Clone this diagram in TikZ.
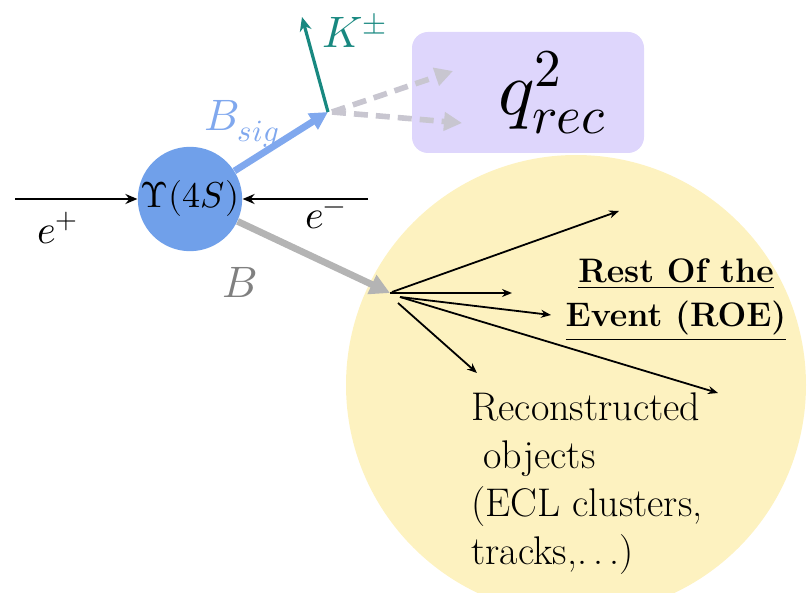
\documentclass[tikz,border=0pt]{standalone}
\usepackage{fontspec}
\usepackage{unicode-math}
\usepackage{tikz}
\usetikzlibrary{calc,arrows.meta}
\definecolor{upsblue}{RGB}{112,160,234}
\definecolor{sigblue}{RGB}{128,168,238}
\definecolor{kteal}{RGB}{24,136,128}
\definecolor{bgray}{RGB}{180,180,180}
\definecolor{dgray}{RGB}{200,198,208}
\definecolor{qpurple}{RGB}{222,214,252}
\definecolor{roeyellow}{RGB}{253,242,192}
\tikzset{
  beam/.style={line width=1.4pt,-{Stealth[length=6pt,width=5pt]}},
  fat/.style={line width=3.4pt,-{Triangle[length=10pt,width=10pt]}},
  trk/.style={line width=0.9pt,-{Stealth[length=5pt,width=4pt]}},
  txt/.style={inner sep=0pt,font=\fontsize{20}{24}\selectfont}
}

\begin{document}
\begin{tikzpicture}[x=0.5pt,y=-0.5pt]
\useasboundingbox (0,0) rectangle (809,593);
\fill[roeyellow] (576,385) circle (115pt);
\node[fill=qpurple,rounded corners=8pt,minimum height=60.5pt,text width=79pt,inner xsep=18.5pt,align=right,font=\fontsize{38}{40}\selectfont] (Q) at (528,92.5) {$q^2_{rec}$};
\node[circle,fill=upsblue,minimum size=49pt,inner sep=0pt,font=\fontsize{18}{20}\selectfont] (U) at (190,199) {$\Upsilon(4S)$};
\coordinate (ep) at (15,199); \coordinate (em) at (368,199);
\draw[beam] (ep)--(U.west);
\draw[beam] (em)--(U.east);
\node[txt] (lep) at (58,228) {$e^+$};
\node[txt] (lem) at (326,218) {$e^-$};
\coordinate (V) at (328,112);
\draw[fat,sigblue,-{Triangle[length=9pt,width=9pt]}] (U)--(V);
\node[txt,sigblue,font=\fontsize{22}{24}\selectfont] (lsig) at (242,124) {$B_{sig}$};
\coordinate (K) at (302,17);
\draw[kteal,line width=1.6pt,-{Stealth[length=7pt,width=6pt]}] (V)--(K);
\node[txt,kteal,font=\fontsize{22}{24}\selectfont] (lK) at (355,31) {$K^{\pm}$};
\coordinate (Q1) at (453,71); \coordinate (Q2) at (462,123);
\draw[dgray,line width=2.8pt,dash pattern=on 7pt off 4pt,-{Triangle[length=9pt,width=9pt]}] ($(V)+(4,0)$)--(Q1);
\draw[dgray,line width=2.8pt,dash pattern=on 7pt off 4pt,-{Triangle[length=9pt,width=9pt]}] ($(V)+(4,0)$)--(Q2);
\coordinate (R) at (390,293);
\draw[fat,bgray] (U)--(R);
\node[txt,gray,font=\fontsize{22}{24}\selectfont] (lB) at (240,282) {$B$};
\coordinate (R1) at (392,292); \coordinate (R2) at (400,297); \coordinate (R3) at (398,303);
\coordinate (T1) at (619,211); \coordinate (T2) at (512,293); \coordinate (T3) at (551,315);
\coordinate (T4) at (477,373); \coordinate (T5) at (718,393);
\draw[trk] (R1)--(T1);
\draw[trk] (R)--(T2);
\draw[trk] (R2)--(T3);
\draw[trk] (R3)--(T4);
\draw[trk] (R2)--(T5);
\node[inner sep=0pt,align=center,font=\bfseries\fontsize{17}{22}\selectfont] (roe) at (676,300) {\underline{Rest Of the}\\\underline{Event (ROE)}};
\node[txt,align=left,anchor=north west] (reco) at (471,392) {Reconstructed\\ \ objects\\(ECL clusters,\\tracks,.\kern3pt.\kern3pt.)};
\end{tikzpicture}
\end{document}
